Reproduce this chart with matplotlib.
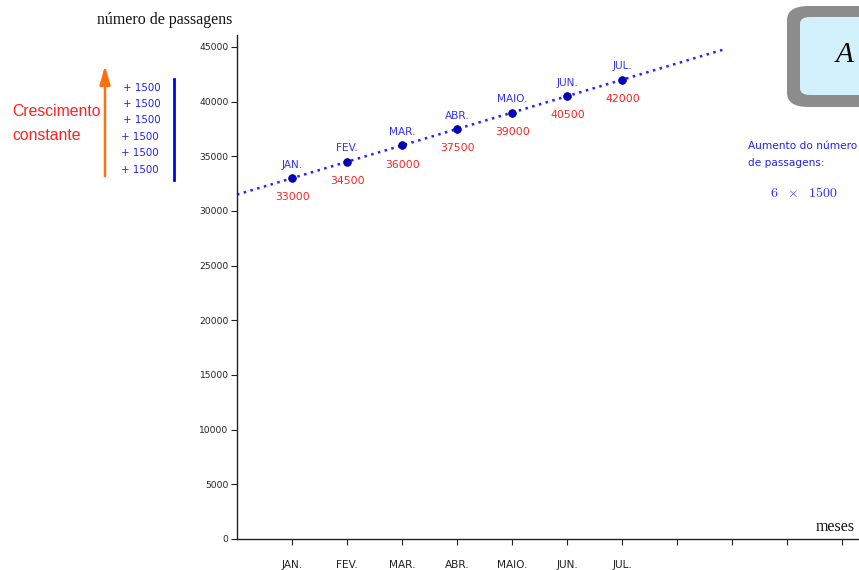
import matplotlib
matplotlib.use("Agg")
import matplotlib.pyplot as plt
from matplotlib.patches import FancyBboxPatch, FancyArrowPatch
from matplotlib.lines import Line2D
import numpy as np

# Passenger counts per month
months = ["JAN.", "FEV.", "MAR.", "ABR.", "MAIO.", "JUN.", "JUL."]
month_pos = [1, 2, 3, 4, 5, 6, 7]
passengers = [33000, 34500, 36000, 37500, 39000, 40500, 42000]
increment = 1500
trend_start = 31500          # value of the trend line at x = 0
trend_end_x = 8.85           # where the dotted trend line stops
y_ticks = list(range(0, 45001, 5000))
x_ticks = list(range(1, 12))

SANS = "DejaVu Sans"
W, H = 859, 570
fig = plt.figure(figsize=(W / 100, H / 100), dpi=100)

# axes placed in pixel terms
ax_left, ax_bottom, ax_top = 237, 539, 35
ax = fig.add_axes([ax_left / W, 1 - ax_bottom / H, (W - ax_left) / W, (ax_bottom - ax_top) / H])
px_per_unit_x = 55.0
px_per_unit_y = 492 / 45000
ax.set_xlim(0, (W - ax_left) / px_per_unit_x)
ax.set_ylim(0, (ax_bottom - ax_top) / px_per_unit_y)

for s in ("top", "right"):
    ax.spines[s].set_visible(False)
for s in ("left", "bottom"):
    ax.spines[s].set_color("#222222")
    ax.spines[s].set_linewidth(1.0)

ax.set_yticks(y_ticks)
ax.set_yticklabels([str(v) for v in y_ticks], fontsize=6.6, color="#222222", family=SANS)
ax.tick_params(axis="y", length=4, width=0.8, color="#222222", pad=2)

ax.set_xticks(x_ticks)
ax.set_xticklabels([months[i - 1] if i <= len(months) else "" for i in x_ticks],
                   fontsize=7.6, color="#222222", family=SANS)
ax.tick_params(axis="x", length=4, width=0.8, color="#222222", pad=15, direction="in")
for t in ax.xaxis.get_major_ticks():
    t.tick1line.set_marker(matplotlib.markers.TICKDOWN)
    t.tick1line.set_markersize(4)

# trend line (constant growth)
xs = np.array([0, trend_end_x])
ax.plot(xs, trend_start + increment * xs, linestyle=(0, (1, 1.8)), color="#2222ff", lw=1.8,
        clip_on=False)

# data points and their labels
ax.plot(month_pos, passengers, "o", color="#0000cc", ms=5.5, mec="#000066", mew=0.6, zorder=5)
for m, x, v in zip(months, month_pos, passengers):
    ax.annotate(m, (x, v), xytext=(0, 9.6), textcoords="offset points", ha="center", va="center",
                fontsize=7.6, color="#3333ff", family=SANS)
    ax.annotate(str(v), (x, v), xytext=(0.5, -13.8), textcoords="offset points", ha="center",
                va="center", fontsize=7.8, color="#ff2222", family=SANS)

# axis titles
fig.text(97 / W, 1 - 20 / H, "número de passagens", fontsize=11.4, family="Liberation Serif",
         color="#111111", va="center", ha="left")
fig.text(816 / W, 1 - 527 / H, "meses", fontsize=11.4, family="Liberation Serif",
         color="#111111", va="center", ha="left")

# left annotation: constant growth
fig.text(12 / W, 1 - 112 / H, "Crescimento", fontsize=11.3, color="#ff2020",
         family="Liberation Sans", va="center", ha="left")
fig.text(12 / W, 1 - 136 / H, "constante", fontsize=11.3, color="#ff2020",
         family="Liberation Sans", va="center", ha="left")
arrow = FancyArrowPatch((105 / W, 1 - 179 / H), (105 / W, 1 - 63 / H), transform=fig.transFigure,
                        arrowstyle="-|>,head_length=7,head_width=2.0", color="#ff7010", lw=1.8,
                        mutation_scale=1.6)
fig.patches.append(arrow)
steps_y = [88, 104, 120, 137, 153, 170]
for i, yy in enumerate(steps_y):
    xx = 123 if i < 3 else 121
    fig.text(xx / W, 1 - yy / H, f"+ {increment}", fontsize=7.4, color="#2020ff",
             family=SANS, va="center", ha="left")
fig.lines.append(Line2D([174 / W, 174 / W], [1 - 79 / H, 1 - 180 / H], transform=fig.transFigure,
                        color="#0000ff", lw=2))

# right annotation: total increase
fig.text(748 / W, 1 - 146 / H, "Aumento do número", fontsize=7.6, color="#2020ff",
         family=SANS, va="center", ha="left")
fig.text(748 / W, 1 - 163 / H, "de passagens:", fontsize=7.6, color="#2020ff",
         family=SANS, va="center", ha="left")
fig.text(770 / W, 1 - 193 / H, rf"${len(months) - 1}\ \ \times\ \ {increment}$", fontsize=10,
         color="#3030ff", math_fontfamily="cm", va="center", ha="left")

# framed box at top right
outer = FancyBboxPatch((787 / W, 1 - 107 / H), 120 / W, 101 / H, transform=fig.transFigure,
                       boxstyle="round,pad=0,rounding_size=0.025", fc="#8c8c8c", ec="none")
inner = FancyBboxPatch((800 / W, 1 - 95 / H), 110 / W, 78 / H, transform=fig.transFigure,
                       boxstyle="round,pad=0,rounding_size=0.012", fc="#d2f1fd", ec="none")
fig.patches.extend([outer, inner])
fig.text(836 / W, 1 - 55 / H, "A", fontsize=21, style="italic", family="Liberation Serif",
         color="#000000", va="center", ha="left")

fig.savefig("out.png", dpi=100)
